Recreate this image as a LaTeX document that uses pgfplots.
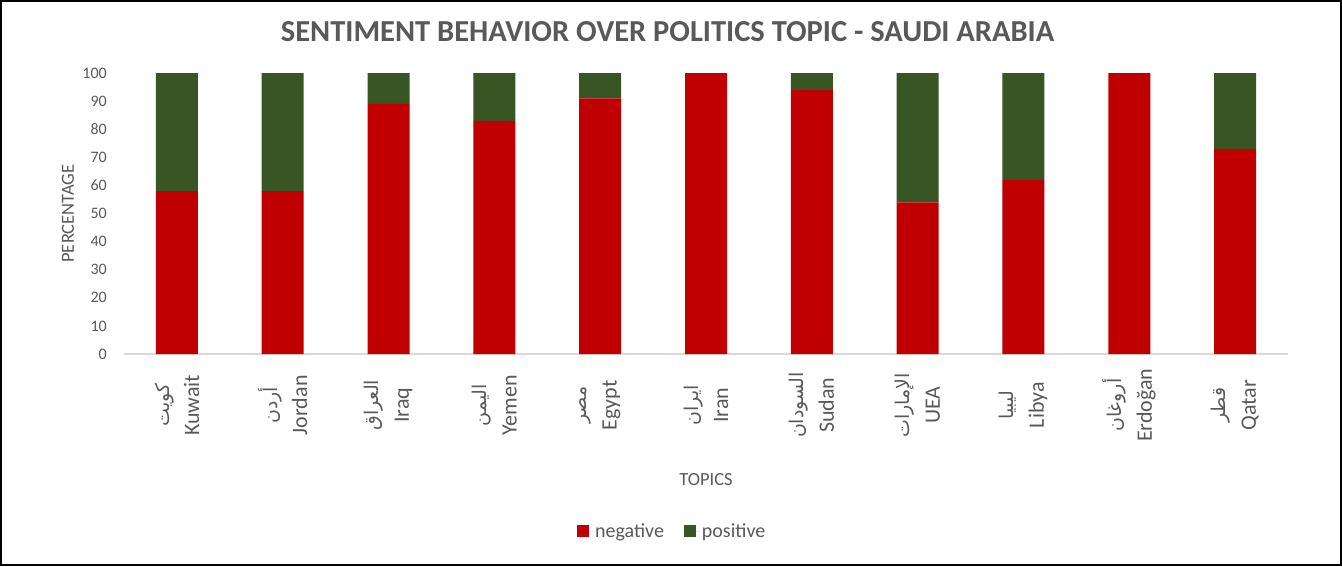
\documentclass[border=0pt]{standalone}
\usepackage{fontspec}
\setmainfont{Carlito}
\newfontfamily\ar[Script=Arabic]{DejaVu Sans}
\TeXXeTstate=1
\usepackage{pgfplots}
\pgfplotsset{compat=1.18}
\definecolor{neg}{HTML}{C00000}
\definecolor{pos}{HTML}{375623}
\definecolor{txt}{HTML}{595959}
\definecolor{base}{HTML}{D9D9D9}
\newcommand{\lab}[2]{{\fontsize{19}{30}\selectfont\ar\beginR #1\endR}\\#2}
\begin{document}
\begin{tikzpicture}
\begin{axis}[
 scale only axis, width=1164pt, height=281pt,
 ybar stacked, bar width=42pt,
 xmin=-0.5, xmax=10.5, ymin=0, ymax=100,
 xtick={0,1,2,3,4,5,6,7,8,9,10},
 xticklabels={{\lab{كويت}{Kuwait}},{\lab{أردن}{Jordan}},{\lab{العراق}{Iraq}},{\lab{اليمن}{Yemen}},{\lab{مصر}{Egypt}},{\lab{ايران}{Iran}},{\lab{السودان}{Sudan}},{\lab{الإمارات}{UEA}},{\lab{ليبيا}{Libya}},{\lab{أروغان}{Erdoğan}},{\lab{قطر}{Qatar}}},
 ytick={0,10,...,100},
 axis x line*=bottom, axis y line*=left,
 x axis line style={draw=base, line width=1.5pt, -},
 y axis line style={draw=none},
 major tick length=0pt, tick style={draw=none},
 /pgf/number format/assume math mode=true,
 yticklabel style={font=\fontsize{16}{19}\selectfont, text=txt, inner xsep=0pt, xshift=-17pt},
 xticklabel style={font=\fontsize{22}{30}\selectfont, text=txt, rotate=90, anchor=east, text width=92pt, align=center, inner xsep=5pt, inner ysep=0pt},
 xlabel={TOPICS}, ylabel={PERCENTAGE},
 every axis x label/.style={at={(axis description cs:0.5,-0.448)}, anchor=center, font=\fontsize{18.5}{22}\selectfont, text=txt},
 every axis y label/.style={at={(axis description cs:-0.0481,0.5)}, anchor=center, rotate=90, font=\fontsize{18.5}{22}\selectfont, text=txt},
 title={SENTIMENT BEHAVIOR OVER POLITICS TOPIC - SAUDI ARABIA},
 every axis title/.style={at={(axis description cs:0.467,1.146)}, anchor=center, font=\bfseries\fontsize{30.5}{36}\selectfont, text=txt},
 legend style={at={(axis description cs:0.471,-0.630)}, anchor=center, draw=none, fill=none, legend columns=2, font=\fontsize{20}{24}\selectfont, text=txt, /tikz/every even column/.append style={column sep=18pt}, inner sep=0pt},
 legend image code/.code={\fill[#1] (0pt,-6pt) rectangle (12pt,6pt); \path (0pt,0pt) -- (16pt,0pt);},
]
\addplot[fill=neg, draw=none] coordinates {(0,58) (1,58) (2,89) (3,83) (4,91) (5,100) (6,94) (7,54) (8,62) (9,100) (10,73)};
\addplot[fill=pos, draw=none] coordinates {(0,42) (1,42) (2,11) (3,17) (4,9) (5,0) (6,6) (7,46) (8,38) (9,0) (10,27)};
\legend{negative, positive}
\end{axis}
\draw[line width=2pt, black] (-123pt,-211pt) rectangle (1217pt,353pt);
\pgfresetboundingbox
\useasboundingbox (-124pt,-212pt) rectangle (1218pt,354pt);
\end{tikzpicture}
\end{document}
